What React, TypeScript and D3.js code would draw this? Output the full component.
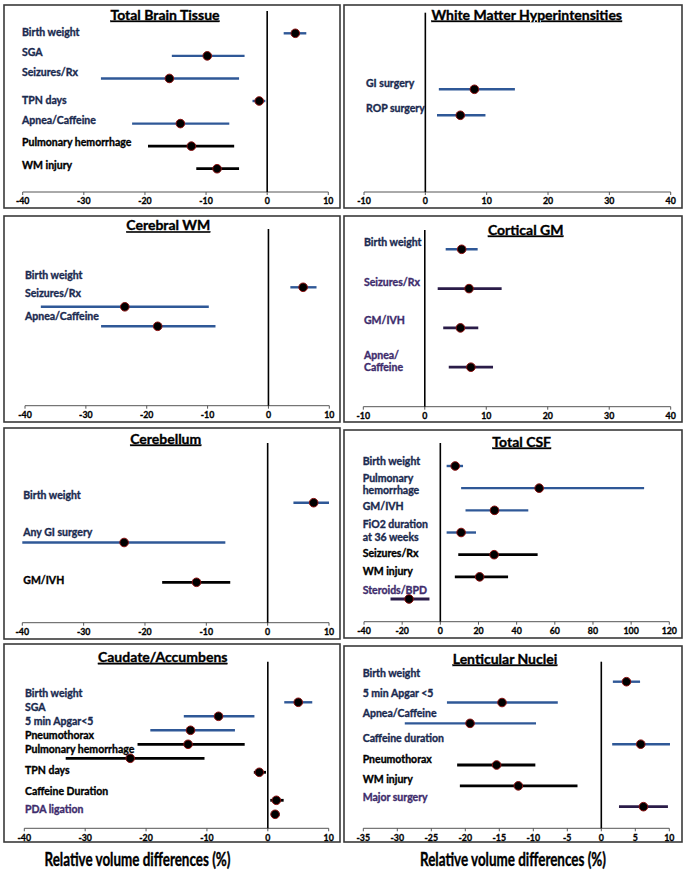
import React from 'react';
import * as d3 from 'd3';

// [label, estimate, lower CI, upper CI, group]  group: b = blue, k = black, p = purple
type Row = [string, number, number, number, string];

const totalBrainTissue: Row[] = [
  ['Birth weight', 4.6, 2.7, 6.4, 'b'],
  ['SGA', -9.8, -15.6, -3.7, 'b'],
  ['Seizures/Rx', -16.0, -27.2, -4.6, 'b'],
  ['TPN days', -1.3, -2.4, -0.3, 'b'],
  ['Apnea/Caffeine', -14.2, -22.1, -6.2, 'b'],
  ['Pulmonary hemorrhage', -12.4, -19.5, -5.4, 'k'],
  ['WM injury', -8.2, -11.6, -4.6, 'k'],
];
const whiteMatterHyper: Row[] = [
  ['GI surgery', 8.0, 2.2, 14.6, 'b'],
  ['ROP surgery', 5.7, 1.9, 9.8, 'b'],
];
const cerebralWM: Row[] = [
  ['Birth weight', 5.7, 3.6, 7.9, 'b'],
  ['Seizures/Rx', -23.6, -37.4, -9.8, 'b'],
  ['Apnea/Caffeine', -18.2, -27.5, -8.7, 'b'],
];
const corticalGM: Row[] = [
  ['Birth weight', 6.0, 3.4, 8.6, 'b'],
  ['Seizures/Rx', 7.2, 2.1, 12.5, 'p'],
  ['GM/IVH', 5.8, 3.0, 8.7, 'p'],
  ['Apnea/\nCaffeine', 7.5, 3.9, 11.1, 'p'],
];
const cerebellum: Row[] = [
  ['Birth weight', 7.5, 4.2, 10.0, 'b'],
  ['Any GI surgery', -23.4, -40.0, -6.9, 'b'],
  ['GM/IVH', -11.6, -17.2, -6.1, 'k'],
];
const totalCSF: Row[] = [
  ['Birth weight', 7.8, 3.3, 11.9, 'b'],
  ['Pulmonary\nhemorrhage', 51.8, 10.9, 106.8, 'b'],
  ['GM/IVH', 28.4, 13.2, 46.1, 'b'],
  ['FiO2 duration\nat 36 weeks', 10.9, 3.3, 18.7, 'b'],
  ['Seizures/Rx', 28.2, 9.4, 51.0, 'k'],
  ['WM injury', 20.6, 7.6, 35.5, 'k'],
  ['Steroids/BPD', -16.4, -26.1, -5.7, 'p'],
];
const caudateAccumbens: Row[] = [
  ['Birth weight', 5.0, 2.7, 7.3, 'b'],
  ['SGA', -8.1, -13.8, -2.2, 'b'],
  ['5 min Apgar<5', -12.7, -19.3, -5.4, 'b'],
  ['Pneumothorax', -13.1, -21.4, -3.8, 'k'],
  ['Pulmonary hemorrhage', -22.6, -33.2, -10.4, 'k'],
  ['TPN days', -1.4, -2.3, -0.3, 'k'],
  ['Caffeine Duration', 1.4, 0.4, 2.6, 'k'],
  ['PDA ligation', 1.2, 0.5, 1.9, 'p'],
];
const lenticularNuclei: Row[] = [
  ['Birth weight', 3.7, 1.7, 5.7, 'b'],
  ['5 min Apgar <5', -14.6, -22.7, -6.4, 'b'],
  ['Apnea/Caffeine', -19.3, -28.9, -9.6, 'b'],
  ['Caffeine duration', 5.8, 1.6, 10.1, 'b'],
  ['Pneumothorax', -15.4, -21.2, -9.7, 'k'],
  ['WM injury', -12.2, -20.8, -3.5, 'k'],
  ['Major surgery', 6.2, 2.6, 9.8, 'p'],
];

const ticksNeg40to10 = [-40, -30, -20, -10, 0, 10];
const ticksNeg10to40 = [-10, 0, 10, 20, 30, 40];
const ticksCSF = [-40, -20, 0, 20, 40, 60, 80, 100, 120];
const ticksLenticular = [-35, -30, -25, -20, -15, -10, -5, 0, 5, 10];

const titles = [
  'Total Brain Tissue', 'White Matter Hyperintensities', 'Cerebral WM', 'Cortical GM',
  'Cerebellum', 'Total CSF', 'Caudate/Accumbens', 'Lenticular Nuclei',
];
const axisTitle = 'Relative volume differences (%)';

const lineColor: Record<string, string> = { b: '#2f5897', k: '#000000', p: '#2a1c48' };
const labelColor: Record<string, string> = { b: '#1a2a4f', k: '#000000', p: '#3e2c6c' };

interface Layout {
  rows: Row[];
  ticks: number[];
  box: [number, number, number, number];
  xr: [number, number];
  axisY: number;
  zeroTop: number;
  title: [number, number];
  y0: number;
  step: number;
  slots?: number[];
  labelX: number;
  labelDy: number[];
}

const panels: Layout[] = [
  { rows: totalBrainTissue, ticks: ticksNeg40to10, box: [4, 5, 340, 208], xr: [22.7, 328.3], axisY: 192, zeroTop: 11, title: [165, 16], y0: 33.3, step: 22.57, labelX: 22, labelDy: [0, -3.3, -5.7, -0.3, -2.9, -2.8, -3] },
  { rows: whiteMatterHyper, ticks: ticksNeg10to40, box: [344, 5, 682, 208], xr: [364, 670.7], axisY: 192, zeroTop: 12.7, title: [526.7, 16], y0: 89.3, step: 26, labelX: 366, labelDy: [-5, -6.6] },
  { rows: cerebralWM, ticks: ticksNeg40to10, box: [4, 216, 340, 422], xr: [25, 329.3], axisY: 405.7, zeroTop: 229, title: [168.3, 226.7], y0: 287.3, step: 19.5, labelX: 25, labelDy: [-11.6, -12.4, -9.6] },
  { rows: corticalGM, ticks: ticksNeg10to40, box: [344, 216, 682, 422], xr: [363.3, 670.7], axisY: 406.7, zeroTop: 230, title: [525.7, 231], y0: 249.3, step: 39.3, labelX: 364, labelDy: [-6, -6, -6.6, -11.3] },
  { rows: cerebellum, ticks: ticksNeg40to10, box: [4, 428, 340, 639], xr: [22.3, 329], axisY: 622.7, zeroTop: 443, title: [165.7, 440], y0: 502.7, step: 39.8, labelX: 23.3, labelDy: [-6.7, -9.7, -1.3] },
  { rows: totalCSF, ticks: ticksCSF, box: [344, 430, 682, 638], xr: [364, 669.3], axisY: 621.7, zeroTop: 443, title: [521.7, 443], y0: 466, step: 22.17, labelX: 362.7, labelDy: [-3.7, -9.3, -3.3, -7.3, -1, -5, -8] },
  { rows: caudateAccumbens, ticks: ticksNeg40to10, box: [4, 644, 340, 842], xr: [24.3, 328.7], axisY: 828.3, zeroTop: 661.7, title: [162.7, 658.3], y0: 702.3, step: 14, slots: [0, 1, 2, 3, 4, 5, 7, 8], labelX: 25, labelDy: [-8, -8, -8.3, -8.3, -8.3, -1.6, -8.7, -4.3] },
  { rows: lenticularNuclei, ticks: ticksLenticular, box: [344, 646, 682, 842], xr: [363.3, 669.3], axisY: 828.3, zeroTop: 661.7, title: [505, 660], y0: 681.7, step: 20.83, labelX: 362.7, labelDy: [-7.4, -9, -9.3, -5.6, -5.3, -6, -8.4] },
];

const FONT = 'Lato, "Open Sans", sans-serif';

function Panel({ p, title }: { p: Layout; title: string }) {
  const x = d3.scaleLinear().domain([p.ticks[0], p.ticks[p.ticks.length - 1]]).range(p.xr);
  const n = p.rows.length;
  const slots = p.slots ?? d3.range(n);
  const y = d3.scaleLinear().domain([0, 1]).range([p.y0, p.y0 + p.step]);
  const [bx0, by0, bx1, by1] = p.box;
  return (
    <g>
      <rect x={bx0} y={by0} width={bx1 - bx0} height={by1 - by0} fill="#fff" stroke="#3a3a3a" strokeWidth={1.6} />
      <line x1={x(p.ticks[0])} x2={x(p.ticks[p.ticks.length - 1])} y1={p.axisY} y2={p.axisY} stroke="#555" strokeWidth={1} />
      {p.ticks.map((t) => (
        <g key={t}>
          <line x1={x(t)} x2={x(t)} y1={p.axisY} y2={p.axisY + 3} stroke="#555" strokeWidth={1} />
          <text x={x(t)} y={p.axisY + 10} textAnchor="middle" dominantBaseline="middle" fontFamily={FONT} fontWeight={700} fontSize={8.8} fill="#000" stroke="#000" strokeWidth={0.3}>
            {t}
          </text>
        </g>
      ))}
      <line x1={x(0)} x2={x(0)} y1={p.zeroTop} y2={p.axisY} stroke="#000" strokeWidth={1.6} />
      <text x={p.title[0]} y={p.title[1]} textAnchor="middle" dominantBaseline="middle" fontFamily={FONT} fontWeight={700} fontSize={14} fill="#000" stroke="#000" strokeWidth={0.35} style={{ textDecoration: 'underline' }}>
        {title}
      </text>
      {p.rows.map((r, i) => {
        const [label, est, lo, hi, g] = r;
        const yy = y(slots[i]);
        const lines = label.split('\n');
        const ly = yy + p.labelDy[i];
        return (
          <g key={i}>
            <text x={p.labelX} y={ly} dominantBaseline="middle" fontFamily={FONT} fontWeight={700} fontSize={10.5} fill={labelColor[g]} stroke={labelColor[g]} strokeWidth={0.35}>
              {lines.map((s, j) => (
                <tspan key={j} x={p.labelX} dy={j === 0 ? 0 : 12.5}>
                  {s}
                </tspan>
              ))}
            </text>
            <line x1={x(lo)} x2={x(hi)} y1={yy} y2={yy} stroke={lineColor[g]} strokeWidth={g === 'b' ? 2.4 : 2.8} />
            <circle cx={x(est)} cy={yy} r={4.3} fill="#000" stroke="#8a1010" strokeWidth={1} />
          </g>
        );
      })}
    </g>
  );
}

export default function App() {
  return (
    <svg width={686} height={876} style={{ position: 'absolute', left: 0, top: 0, background: '#fff' }}>
      <rect x={0} y={0} width={686} height={876} fill="#fff" />
      {panels.map((p, i) => (
        <Panel key={i} p={p} title={titles[i]} />
      ))}
      <text x={137.5} y={861} textAnchor="middle" dominantBaseline="middle" fontFamily={FONT} fontWeight={700} fontSize={19} textLength={186} lengthAdjust="spacingAndGlyphs" fill="#000" stroke="#000" strokeWidth={0.4}>
        {axisTitle}
      </text>
      <text x={513} y={861} textAnchor="middle" dominantBaseline="middle" fontFamily={FONT} fontWeight={700} fontSize={19} textLength={186} lengthAdjust="spacingAndGlyphs" fill="#000" stroke="#000" strokeWidth={0.4}>
        {axisTitle}
      </text>
    </svg>
  );
}
